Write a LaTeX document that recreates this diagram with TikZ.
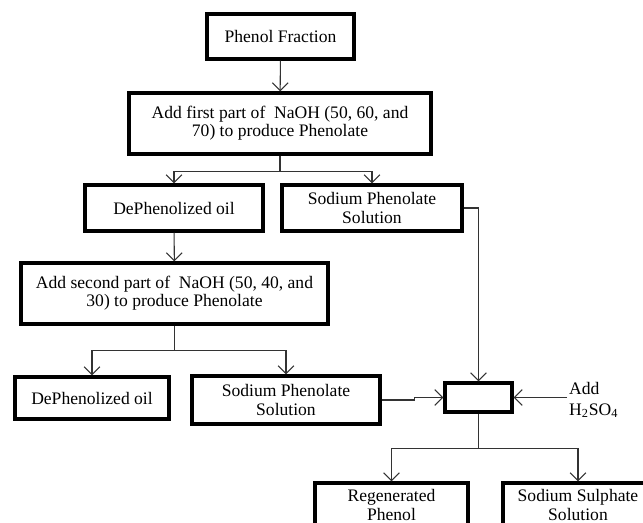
\documentclass[tikz,border=0pt]{standalone}
\usepackage{fontspec}
\setmainfont{Liberation Serif}
\usetikzlibrary{arrows.meta}
\tikzset{
	procbox/.style={draw, line width=1.8pt, align=center, inner sep=2pt, font=\fontsize{10}{10.4}\selectfont},
	flow/.style={draw=black!80, line width=0.6pt},
	>={Straight Barb[length=4.5pt, width=9pt]}
}
\begin{document}
\begin{tikzpicture}[x=0.02cm, y=-0.02cm]
		\clip (0, 0) rectangle (643, 523);
		% upper stage
		\node[procbox, minimum width=2.94cm, minimum height=0.9cm] (frac) at (280.5, 36.5) {Phenol Fraction};
		\node[procbox, minimum width=6.04cm, minimum height=1.22cm] (add1) at (280, 123.5) {Add first part of ~NaOH (50, 60, and\\70) to produce Phenolate};
		\node[procbox, minimum width=3.56cm, minimum height=0.92cm] (oil1) at (174, 208) {DePhenolized oil};
		\node[procbox, minimum width=3.6cm, minimum height=0.92cm] (sp1) at (372, 208) {Sodium Phenolate\\Solution};
		% second stage
		\node[procbox, minimum width=6.14cm, minimum height=1.22cm] (add2) at (174.5, 293.5) {Add second part of ~NaOH (50, 40, and\\30) to produce Phenolate};
		\node[procbox, minimum width=3.08cm, minimum height=0.84cm] (oil2) at (92, 398) {DePhenolized oil};
		\node[procbox, minimum width=3.76cm, minimum height=0.96cm] (sp2) at (286, 400) {Sodium Phenolate\\Solution};
		% acidification
		\node[procbox, minimum width=1.34cm, minimum height=0.58cm] (mix) at (478.5, 397.5) {};
		\node[align=left, anchor=west, inner sep=1pt, font=\fontsize{10}{12}\selectfont] (acid) at (567, 400) {Add\\H\textsubscript{2}SO\textsubscript{4}};
		\node[procbox, minimum width=3.06cm, minimum height=0.88cm] (regen) at (391.5, 505) {Regenerated\\Phenol};
		\node[procbox, minimum width=3.0cm, minimum height=0.88cm] (sulph) at (578, 505) {Sodium Sulphate\\Solution};
		% connectors
		\draw[flow, ->] (frac) -- (add1);
		\draw[flow] (add1.south) -- ++(0, 16) coordinate (s1);
		\draw[flow, ->] (s1) -| (oil1.north);
		\draw[flow, ->] (s1) -| (sp1.north);
		\draw[flow, ->] (sp1.east) -| (mix.north);
		\draw[flow, ->] (oil1) -- (add2);
		\draw[flow] (add2.south) -- ++(0, 25) coordinate (s2);
		\draw[flow, ->] (s2) -| (oil2.north);
		\draw[flow, ->] (s2) -| (sp2.north);
		\draw[flow, ->] (sp2.east) -- ++(33, 0) |- (mix.west);
		\draw[flow, ->] (acid.west |- mix.east) -- (mix.east);
		\draw[flow] (mix.south) -- ++(0, 35) coordinate (s3);
		\draw[flow, ->] (s3) -| (regen.north);
		\draw[flow, ->] (s3) -| (sulph.north);
	\end{tikzpicture}
\end{document}
